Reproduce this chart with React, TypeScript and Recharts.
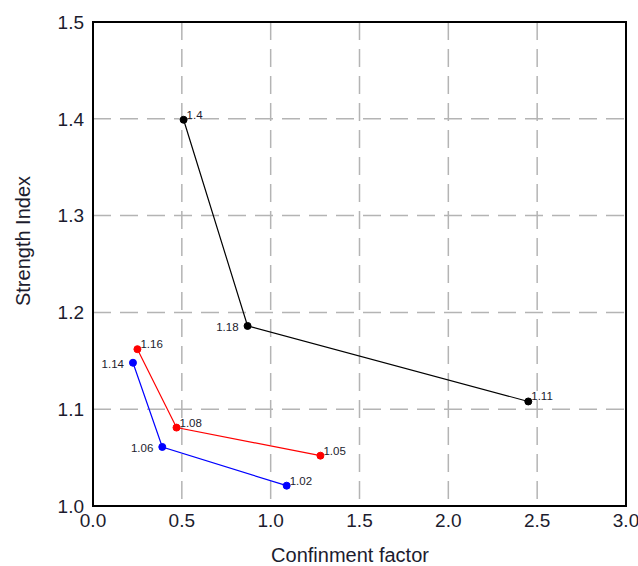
import { LineChart, Line, XAxis, YAxis, CartesianGrid, ReferenceArea, LabelList } from "recharts";

// confinement factor / strength index
const blackX = [0.51, 0.87, 2.45];
const blackY = [1.399, 1.186, 1.108];
const blackLabels = ["1.4", "1.18", "1.11"];
const blackSides = ["right", "left", "right"];

const redX = [0.25, 0.47, 1.28];
const redY = [1.162, 1.081, 1.052];
const redLabels = ["1.16", "1.08", "1.05"];
const redSides = ["right", "right", "right"];

const blueX = [0.225, 0.39, 1.09];
const blueY = [1.148, 1.061, 1.021];
const blueLabels = ["1.14", "1.06", "1.02"];
const blueSides = ["left", "left", "right"];

const xTicks = [0, 0.5, 1.0, 1.5, 2.0, 2.5, 3.0];
const yTicks = [1.0, 1.1, 1.2, 1.3, 1.4, 1.5];

const toPoints = (xs: number[], ys: number[], labels: string[], sides: string[]) =>
  xs.map((x, i) => ({ x, y: ys[i], label: labels[i], side: sides[i] }));

const black = toPoints(blackX, blackY, blackLabels, blackSides);
const red = toPoints(redX, redY, redLabels, redSides);
const blue = toPoints(blueX, blueY, blueLabels, blueSides);

const FONT = "'Liberation Sans', Arial, sans-serif";
const TEXT = "#1c1c2e";

const makeLabel = (pts: any[]) => (props: any) => {
  const { x, y, index } = props;
  const p = pts[index];
  const left = p.side === "left";
  return (
    <text
      x={left ? x - 9 : x + 3}
      y={left ? y + 1 : y - 5}
      textAnchor={left ? "end" : "start"}
      dominantBaseline="central"
      fontSize={11.5}
      fontFamily={FONT}
      fill={TEXT}
    >
      {p.label}
    </text>
  );
};

const YTitle = ({ viewBox }: any) => {
  const cx = 23;
  const cy = 241;
  return (
    <text
      x={cx}
      y={cy}
      transform={`rotate(-90, ${cx}, ${cy})`}
      textAnchor="middle"
      dominantBaseline="central"
      fontSize={20}
      fontFamily={FONT}
      fill={TEXT}
    >
      Strength Index
    </text>
  );
};

const XTitle = ({ viewBox }: any) => (
  <text
    x={350}
    y={555}
    textAnchor="middle"
    dominantBaseline="central"
    fontSize={20}
    fontFamily={FONT}
    fill={TEXT}
  >
    Confinment factor
  </text>
);

export default function App() {
  const tickStyle = { fontSize: 19, fontFamily: FONT, fill: TEXT };
  return (
    <div style={{ position: "absolute", left: 0, top: 0, background: "#fff" }}>
      <LineChart width={638} height={566} margin={{ top: 22, right: 12, bottom: 0, left: 0 }}>
        <CartesianGrid stroke="#b4b4b4" strokeWidth={1.5} strokeDasharray="18 9" />
        <XAxis
          type="number"
          dataKey="x"
          domain={[0, 3]}
          ticks={xTicks}
          tickFormatter={(v: number) => v.toFixed(1)}
          tick={tickStyle}
          tickLine={false}
          axisLine={false}
          tickMargin={2}
          height={60}
          allowDataOverflow
          label={<XTitle />}
        />
        <YAxis
          type="number"
          dataKey="y"
          domain={[1.0, 1.5]}
          ticks={yTicks}
          tickFormatter={(v: number) => v.toFixed(1)}
          tick={tickStyle}
          tickLine={false}
          axisLine={false}
          tickMargin={3}
          width={93}
          allowDataOverflow
          label={<YTitle />}
        />
        <ReferenceArea x1={0} x2={3} y1={1.0} y2={1.5} fill="none" stroke="#000" strokeWidth={2} />
        <Line
          data={black}
          dataKey="y"
          stroke="#000"
          strokeWidth={1.2}
          dot={{ r: 3.5, fill: "#000", stroke: "#000", strokeWidth: 1 }}
          isAnimationActive={false}
        >
          <LabelList dataKey="label" content={makeLabel(black)} />
        </Line>
        <Line
          data={red}
          dataKey="y"
          stroke="#ff0000"
          strokeWidth={1.2}
          dot={{ r: 3.5, fill: "#ff0000", stroke: "#ff0000", strokeWidth: 1 }}
          isAnimationActive={false}
        >
          <LabelList dataKey="label" content={makeLabel(red)} />
        </Line>
        <Line
          data={blue}
          dataKey="y"
          stroke="#0000ff"
          strokeWidth={1.2}
          dot={{ r: 3.5, fill: "#0000ff", stroke: "#0000ff", strokeWidth: 1 }}
          isAnimationActive={false}
        >
          <LabelList dataKey="label" content={makeLabel(blue)} />
        </Line>
      </LineChart>
    </div>
  );
}
